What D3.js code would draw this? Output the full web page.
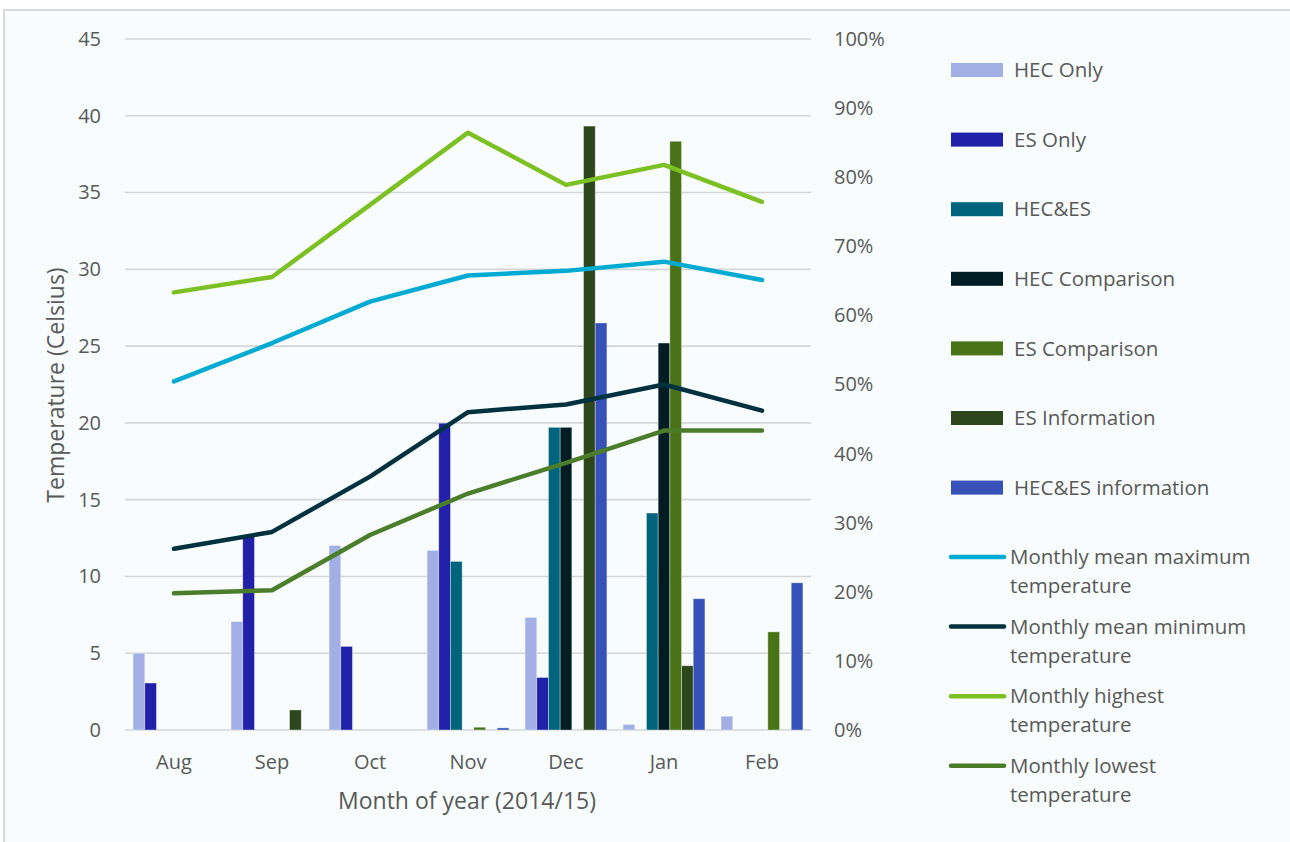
<!DOCTYPE html>
<html>
<head>
<meta charset="utf-8">
<script src="https://cdn.jsdelivr.net/npm/d3@7"></script>
<style>
  body { margin: 0; background: #ffffff; }
  text { font-family: "Open Sans", sans-serif; fill: #595959; }
</style>
</head>
<body>
<script>
// months on the x axis
var months = ["Aug", "Sep", "Oct", "Nov", "Dec", "Jan", "Feb"];

// bar series, percent (right axis)
var barSeries = ["HEC Only", "ES Only", "HEC&ES", "HEC Comparison", "ES Comparison", "ES Information", "HEC&ES information"];
var hecOnly          = [11.1, 15.7, 26.7, 26.0, 16.3, 0.8, 2.0];
var esOnly           = [6.8, 28.2, 12.1, 44.4, 7.6, 0, 0];
var hecEs            = [0, 0, 0, 24.4, 43.8, 31.4, 0];
var hecComparison    = [0, 0, 0, 0, 43.8, 56.0, 0];
var esComparison     = [0, 0, 0, 0.4, 0, 85.2, 14.2];
var esInformation    = [0, 2.9, 0, 0, 87.4, 9.3, 0];
var hecEsInformation = [0, 0, 0, 0.3, 58.9, 19.0, 21.3];
var barValues = [hecOnly, esOnly, hecEs, hecComparison, esComparison, esInformation, hecEsInformation];

// line series, Celsius (left axis)
var lineSeries = ["Monthly mean maximum temperature", "Monthly mean minimum temperature",
                  "Monthly highest temperature", "Monthly lowest temperature"];
var meanMax = [22.7, 25.2, 27.9, 29.6, 29.9, 30.5, 29.3];
var meanMin = [11.8, 12.9, 16.5, 20.7, 21.2, 22.5, 20.8];
var highest = [28.5, 29.5, 34.2, 38.9, 35.5, 36.8, 34.4];
var lowest  = [8.9, 9.1, 12.7, 15.4, 17.4, 19.5, 19.5];
var lineValues = [meanMax, meanMin, highest, lowest];

// ticks
var tempTicks = [0, 5, 10, 15, 20, 25, 30, 35, 40, 45];
var pctTicks = [0, 10, 20, 30, 40, 50, 60, 70, 80, 90, 100];

var barColors = ["#A1AFE4", "#2020A9", "#00657C", "#001D24", "#4A7217", "#2E461B", "#3651B8"];
var lineColors = ["#00ABD3", "#00313E", "#7CC023", "#4B7D2A"];

var svg = d3.select("body")
            .append("svg")
            .attr("width", 1290)
            .attr("height", 842);

// chart frame
svg.append("rect")
   .attr("x", 4)
   .attr("y", 10)
   .attr("width", 1290)
   .attr("height", 850)
   .attr("fill", "#F8FCFD")
   .attr("stroke", "#D9D9D9")
   .attr("stroke-width", 2);

var plotLeft = 125, plotRight = 811, plotTop = 39, plotBottom = 730;

var x0 = d3.scaleBand()
           .domain(months)
           .range([plotLeft, plotRight])
           .padding(0);

var x1 = d3.scaleBand()
           .domain(barSeries)
           .range([0, x0.bandwidth()])
           .paddingInner(0)
           .paddingOuter(0.69);

var yTemp = d3.scaleLinear().domain([0, 45]).range([plotBottom, plotTop]);
var yPct = d3.scaleLinear().domain([0, 100]).range([plotBottom, plotTop]);

// gridlines
svg.append("g")
   .selectAll("line")
   .data(tempTicks)
   .enter()
   .append("line")
   .attr("x1", plotLeft)
   .attr("x2", plotRight)
   .attr("y1", function (d) { return yTemp(d); })
   .attr("y2", function (d) { return yTemp(d); })
   .attr("stroke", "#D6D6D6")
   .attr("stroke-width", 1.6);

// left axis
var leftAxis = svg.append("g")
                  .attr("transform", "translate(" + plotLeft + ",0)")
                  .call(d3.axisLeft(yTemp).tickValues(tempTicks).tickSize(0).tickPadding(24));
leftAxis.select(".domain").remove();
leftAxis.selectAll("text")
        .style("font-size", "20px")
        .style("font-family", "Open Sans")
        .attr("fill", "#595959");

// right axis
var rightAxis = svg.append("g")
                   .attr("transform", "translate(" + plotRight + ",0)")
                   .call(d3.axisRight(yPct).tickValues(pctTicks).tickSize(0).tickPadding(23)
                           .tickFormat(function (d) { return d + "%"; }));
rightAxis.select(".domain").remove();
rightAxis.selectAll("text")
         .style("font-size", "20px")
         .style("font-family", "Open Sans")
         .attr("fill", "#595959");

// bottom axis
var bottomAxis = svg.append("g")
                    .attr("transform", "translate(0," + plotBottom + ")")
                    .call(d3.axisBottom(x0).tickSize(0).tickPadding(25));
bottomAxis.select(".domain").remove();
bottomAxis.selectAll("text")
          .style("font-size", "20px")
          .style("font-family", "Open Sans")
          .attr("fill", "#595959");

// bars
var barGroups = svg.append("g")
                   .selectAll("g")
                   .data(barSeries)
                   .enter()
                   .append("g")
                   .attr("fill", function (d, i) { return barColors[i]; });

barGroups.selectAll("rect")
         .data(function (s, i) {
           return barValues[i].map(function (v, j) { return { series: s, month: months[j], value: v }; });
         })
         .enter()
         .filter(function (d) { return d.value > 0; })
         .append("rect")
         .attr("x", function (d) { return x0(d.month) + x1(d.series); })
         .attr("width", x1.bandwidth())
         .attr("y", function (d) { return yPct(d.value); })
         .attr("height", function (d) { return plotBottom - yPct(d.value); })
         .attr("stroke", "rgba(255,255,255,0.45)")
         .attr("stroke-width", 0.8);

// lines
var line = d3.line()
             .x(function (d, i) { return x0(months[i]) + x0.bandwidth() / 2; })
             .y(function (d) { return yTemp(d); });

svg.append("g")
   .selectAll("path")
   .data(lineValues)
   .enter()
   .append("path")
   .attr("d", function (d) { return line(d); })
   .attr("fill", "none")
   .attr("stroke", function (d, i) { return lineColors[i]; })
   .attr("stroke-width", 4.5)
   .attr("stroke-linecap", "round")
   .attr("stroke-linejoin", "round");

// axis titles
svg.append("text")
   .attr("transform", "translate(64,385) rotate(-90)")
   .attr("text-anchor", "middle")
   .style("font-size", "23px")
   .text("Temperature (Celsius)");

svg.append("text")
   .attr("x", 467)
   .attr("y", 809)
   .attr("text-anchor", "middle")
   .style("font-size", "23px")
   .text("Month of year (2014/15)");

// legend - bars
var barLegend = svg.append("g")
                   .selectAll("g")
                   .data(barSeries)
                   .enter()
                   .append("g")
                   .attr("transform", function (d, i) { return "translate(951," + (70 + i * 69.6) + ")"; });

barLegend.append("rect")
         .attr("x", 0)
         .attr("y", -7)
         .attr("width", 52)
         .attr("height", 14)
         .attr("fill", function (d, i) { return barColors[i]; });

barLegend.append("text")
         .attr("x", 63)
         .attr("dy", "0.35em")
         .style("font-size", "20.5px")
         .text(function (d) { return d; });

// legend - lines
var lineLegend = svg.append("g")
                    .selectAll("g")
                    .data(lineSeries)
                    .enter()
                    .append("g")
                    .attr("transform", function (d, i) { return "translate(951," + (557 + i * 69.6) + ")"; });

lineLegend.append("line")
          .attr("x1", 0)
          .attr("x2", 53)
          .attr("stroke", function (d, i) { return lineColors[i]; })
          .attr("stroke-width", 4.5)
          .attr("stroke-linecap", "round");

lineLegend.append("text")
          .style("font-size", "20.5px")
          .each(function (d) {
            var words = d.split(" ");
            var first = words.slice(0, words.length - 1).join(" ");
            var t = d3.select(this);
            t.append("tspan").attr("x", 59).attr("dy", "0.35em").text(first);
            t.append("tspan").attr("x", 59).attr("dy", 29).text(words[words.length - 1]);
          });
</script>
</body>
</html>
